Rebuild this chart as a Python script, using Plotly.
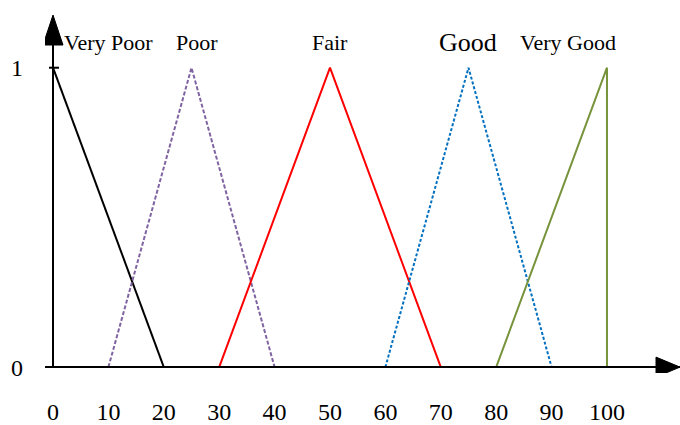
import plotly.graph_objects as go

# Membership functions of the quality scale (x: score, y: membership degree)
very_poor_x = [0, 20]
very_poor_y = [1, 0]
poor_x = [10, 25, 40]
poor_y = [0, 1, 0]
fair_x = [30, 50, 70]
fair_y = [0, 1, 0]
good_x = [60, 75, 90]
good_y = [0, 1, 0]
very_good_x = [80, 100, 100]
very_good_y = [0, 1, 0]

x_ticks = [0, 10, 20, 30, 40, 50, 60, 70, 80, 90, 100]
y_ticks = [0, 1]

labels = ["Very Poor", "Poor", "Fair", "Good", "Very Good"]
label_x = [10, 26, 50, 75, 93]
label_sizes = [22, 22, 22, 26, 22]

serif = "Liberation Serif, Times New Roman, serif"

fig = go.Figure()
fig.add_trace(go.Scatter(x=very_poor_x, y=very_poor_y, mode="lines",
                         line=dict(color="#000000", width=2)))
fig.add_trace(go.Scatter(x=poor_x, y=poor_y, mode="lines",
                         line=dict(color="#8064A2", width=2, dash="4px,2px")))
fig.add_trace(go.Scatter(x=fair_x, y=fair_y, mode="lines",
                         line=dict(color="#FF0000", width=2)))
fig.add_trace(go.Scatter(x=good_x, y=good_y, mode="lines",
                         line=dict(color="#0070C0", width=2, dash="3px,2px")))
fig.add_trace(go.Scatter(x=very_good_x, y=very_good_y, mode="lines",
                         line=dict(color="#77933C", width=2)))

for text, lx, fs in zip(labels, label_x, label_sizes):
    fig.add_annotation(x=lx, y=1.085, text=text, showarrow=False,
                       font=dict(family=serif, size=fs, color="black"),
                       xanchor="center", yanchor="middle")

# Axis lines with arrow heads
fig.add_shape(type="line", x0=0, y0=0, x1=0, y1=1.15, xref="x", yref="y",
              line=dict(color="black", width=2))
fig.add_shape(type="line", x0=0, y0=0, x1=1, y1=0, xref="paper", yref="y",
              line=dict(color="black", width=2))
fig.add_shape(type="path", xref="x", yref="paper", xsizemode="pixel",
              ysizemode="pixel", xanchor=0, yanchor=1,
              path="M -10,-45 L 10,-45 L 0,-15 Z",
              fillcolor="black", line=dict(color="black", width=1))
fig.add_shape(type="path", xref="paper", yref="y", xsizemode="pixel",
              ysizemode="pixel", xanchor=1, yanchor=0,
              path="M -24,-10 L -24,10 L 0,0 Z",
              fillcolor="black", line=dict(color="black", width=1))
# small tick mark at membership 1
fig.add_shape(type="line", xref="x", yref="y", xsizemode="pixel", xanchor=0,
              x0=-4, x1=6, y0=1, y1=1, line=dict(color="black", width=2))

fig.update_layout(
    width=680, height=425,
    margin=dict(l=45, r=0, t=0, b=45),
    paper_bgcolor="white", plot_bgcolor="white",
    showlegend=False,
    xaxis=dict(range=[-1.444, 113.18], tickvals=x_ticks, showgrid=False,
               zeroline=False, showline=False, ticks="",
               tickfont=dict(family=serif, size=24, color="black"),
               ticklabelstandoff=22),
    yaxis=dict(range=[-0.01967, 1.2262], tickvals=y_ticks, showgrid=False,
               zeroline=False, showline=False, ticks="",
               tickfont=dict(family=serif, size=24, color="black"),
               ticklabelstandoff=21),
)

fig.write_html("out.html")
